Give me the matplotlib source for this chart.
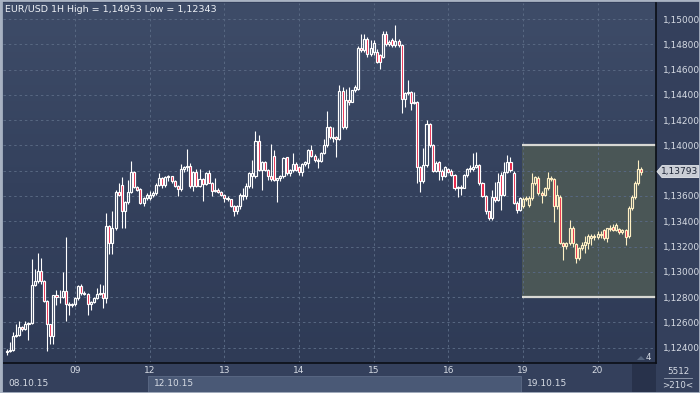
import numpy as np
import matplotlib
matplotlib.use("Agg")
import matplotlib.pyplot as plt
from matplotlib.patches import Rectangle, Polygon
from matplotlib.colors import LinearSegmentedColormap
from matplotlib.transforms import blended_transform_factory

# EUR/USD hourly candles, one list per trading day
O08 = [1.12365, 1.12372, 1.12385, 1.12495, 1.12500, 1.12565, 1.12545, 1.12584, 1.12595, 1.12899, 1.12925,
       1.13005, 1.12925, 1.12771, 1.12584, 1.12490, 1.12813, 1.12800, 1.12805, 1.12845, 1.12744, 1.12735]
H08 = [1.12392, 1.12445, 1.12525, 1.12587, 1.12610, 1.12575, 1.12610, 1.12600, 1.13099, 1.13019, 1.13147,
       1.13112, 1.12935, 1.12779, 1.12590, 1.12819, 1.12859, 1.12859, 1.12997, 1.13277, 1.12760, 1.12750]
L08 = [1.12343, 1.12365, 1.12370, 1.12485, 1.12490, 1.12530, 1.12540, 1.12458, 1.12590, 1.12890, 1.12910,
       1.12900, 1.12760, 1.12370, 1.12426, 1.12426, 1.12739, 1.12752, 1.12790, 1.12610, 1.12659, 1.12720]
C08 = [1.12372, 1.12385, 1.12495, 1.12500, 1.12565, 1.12545, 1.12584, 1.12595, 1.12899, 1.12925, 1.13005,
       1.12925, 1.12771, 1.12584, 1.12490, 1.12813, 1.12800, 1.12805, 1.12845, 1.12744, 1.12735, 1.12744]

O09 = [1.12744, 1.12790, 1.12885, 1.12832, 1.12824, 1.12744, 1.12760, 1.12792, 1.12824, 1.12832, 1.12792, 1.13365,
       1.13232, 1.13347, 1.13632, 1.13685, 1.13485, 1.13552, 1.13632, 1.13792, 1.13672, 1.13659, 1.13547, 1.13584]
H09 = [1.12800, 1.12899, 1.12900, 1.12845, 1.12830, 1.12771, 1.12800, 1.12872, 1.12907, 1.12893, 1.13467, 1.13370,
       1.13485, 1.13645, 1.13699, 1.13752, 1.13560, 1.13725, 1.13880, 1.13800, 1.13680, 1.13665, 1.13590, 1.13620]
L09 = [1.12733, 1.12780, 1.12820, 1.12815, 1.12659, 1.12699, 1.12750, 1.12785, 1.12815, 1.12712, 1.12750, 1.13139,
       1.13144, 1.13330, 1.13600, 1.13347, 1.13347, 1.13540, 1.13620, 1.13660, 1.13640, 1.13540, 1.13520, 1.13570]
C09 = [1.12790, 1.12885, 1.12832, 1.12824, 1.12744, 1.12760, 1.12792, 1.12824, 1.12832, 1.12792, 1.13365, 1.13232,
       1.13347, 1.13632, 1.13605, 1.13485, 1.13552, 1.13632, 1.13792, 1.13672, 1.13651, 1.13547, 1.13584, 1.13611]

O12 = [1.13584, 1.13611, 1.13620, 1.13685, 1.13739, 1.13685, 1.13747, 1.13755, 1.13716, 1.13681, 1.13655, 1.13813,
       1.13829, 1.13840, 1.13681, 1.13790, 1.13681, 1.13734, 1.13697, 1.13782, 1.13705, 1.13637, 1.13645, 1.13629]
H12 = [1.13640, 1.13640, 1.13700, 1.13779, 1.13750, 1.13760, 1.13770, 1.13760, 1.13725, 1.13690, 1.13850, 1.13840,
       1.13972, 1.13860, 1.13800, 1.13810, 1.13815, 1.13740, 1.13790, 1.13808, 1.13710, 1.13740, 1.13660, 1.13640]
L12 = [1.13570, 1.13590, 1.13605, 1.13680, 1.13660, 1.13670, 1.13720, 1.13700, 1.13670, 1.13597, 1.13640, 1.13790,
       1.13800, 1.13660, 1.13637, 1.13670, 1.13670, 1.13560, 1.13690, 1.13700, 1.13597, 1.13630, 1.13620, 1.13600]
C12 = [1.13611, 1.13620, 1.13685, 1.13739, 1.13685, 1.13747, 1.13755, 1.13716, 1.13681, 1.13655, 1.13813, 1.13829,
       1.13840, 1.13681, 1.13790, 1.13681, 1.13734, 1.13697, 1.13782, 1.13705, 1.13637, 1.13645, 1.13629, 1.13610]

O13 = [1.13610, 1.13584, 1.13575, 1.13518, 1.13479, 1.13518, 1.13610, 1.13600, 1.13676, 1.13760, 1.13760, 1.14037,
       1.13808, 1.13866, 1.13808, 1.13760, 1.13918, 1.13730, 1.13740, 1.13755, 1.13905, 1.13782, 1.13808, 1.13855]
H13 = [1.13615, 1.13600, 1.13580, 1.13525, 1.13530, 1.13620, 1.13660, 1.13700, 1.13790, 1.13887, 1.14111, 1.14085,
       1.13880, 1.13880, 1.13815, 1.14013, 1.13966, 1.13740, 1.13770, 1.13910, 1.13910, 1.13810, 1.13940, 1.13870]
L13 = [1.13550, 1.13560, 1.13510, 1.13439, 1.13460, 1.13500, 1.13570, 1.13580, 1.13660, 1.13660, 1.13740, 1.13800,
       1.13650, 1.13800, 1.13730, 1.13720, 1.13720, 1.13550, 1.13720, 1.13740, 1.13770, 1.13760, 1.13790, 1.13800]
C13 = [1.13584, 1.13575, 1.13518, 1.13479, 1.13518, 1.13610, 1.13600, 1.13676, 1.13782, 1.13782, 1.14037, 1.13808,
       1.13866, 1.13808, 1.13760, 1.13735, 1.13730, 1.13740, 1.13755, 1.13900, 1.13782, 1.13808, 1.13855, 1.13808]

O14 = [1.13829, 1.13787, 1.13850, 1.13860, 1.13966, 1.13918, 1.13887, 1.13880, 1.13940, 1.14005, 1.14143, 1.14064,
       1.14069, 1.14048, 1.14429, 1.14143, 1.14358, 1.14345, 1.14437, 1.14450, 1.14774, 1.14758, 1.14845, 1.14726]
H14 = [1.13840, 1.13860, 1.13880, 1.13970, 1.14005, 1.13930, 1.13900, 1.13950, 1.14050, 1.14274, 1.14150, 1.14143,
       1.14075, 1.14477, 1.14464, 1.14450, 1.14464, 1.14440, 1.14480, 1.14790, 1.14884, 1.14884, 1.14860, 1.14832]
L14 = [1.13770, 1.13760, 1.13840, 1.13820, 1.13910, 1.13870, 1.13820, 1.13870, 1.13930, 1.13990, 1.14050, 1.14030,
       1.13912, 1.14040, 1.14130, 1.14130, 1.14319, 1.14340, 1.14420, 1.14440, 1.14740, 1.14740, 1.14700, 1.14710]
C14 = [1.13787, 1.13850, 1.13870, 1.13960, 1.13918, 1.13887, 1.13880, 1.13940, 1.14005, 1.14143, 1.14064, 1.14056,
       1.14048, 1.14429, 1.14143, 1.14358, 1.14345, 1.14437, 1.14464, 1.14774, 1.14758, 1.14845, 1.14726, 1.14774]

O15 = [1.14740, 1.14740, 1.14713, 1.14700, 1.14884, 1.14800, 1.14832, 1.14792, 1.14826, 1.14792, 1.14364, 1.14416,
       1.14424, 1.14337, 1.14345, 1.13833, 1.13715, 1.13846, 1.14169, 1.14004, 1.13801, 1.13872, 1.13801, 1.13759]
H15 = [1.14830, 1.14760, 1.14720, 1.14902, 1.14902, 1.14830, 1.14850, 1.14953, 1.14840, 1.14800, 1.14420, 1.14516,
       1.14430, 1.14424, 1.14350, 1.13840, 1.13977, 1.14201, 1.14180, 1.14010, 1.13880, 1.13880, 1.13815, 1.13840]
L15 = [1.14715, 1.14650, 1.14608, 1.14690, 1.14790, 1.14790, 1.14780, 1.14780, 1.14780, 1.14253, 1.14301, 1.14400,
       1.14280, 1.14330, 1.13701, 1.13628, 1.13700, 1.13830, 1.13990, 1.13790, 1.13790, 1.13728, 1.13728, 1.13750]
C15 = [1.14811, 1.14661, 1.14661, 1.14884, 1.14800, 1.14818, 1.14792, 1.14826, 1.14792, 1.14364, 1.14416, 1.14424,
       1.14337, 1.14345, 1.13833, 1.13715, 1.13846, 1.14169, 1.14004, 1.13801, 1.13864, 1.13801, 1.13759, 1.13833]

O16 = [1.13812, 1.13801, 1.13767, 1.13662, 1.13675, 1.13665, 1.13767, 1.13812, 1.13812, 1.13833, 1.13843, 1.13701,
       1.13602, 1.13478, 1.13424, 1.13595, 1.13570, 1.13766, 1.13608, 1.13792, 1.13871, 1.13784, 1.13548, 1.13490]
H16 = [1.13820, 1.13810, 1.13775, 1.13680, 1.13690, 1.13775, 1.13820, 1.13843, 1.13940, 1.13951, 1.13850, 1.13710,
       1.13610, 1.13485, 1.13647, 1.13713, 1.13779, 1.13790, 1.13871, 1.13924, 1.13910, 1.13800, 1.13560, 1.13590]
L16 = [1.13780, 1.13760, 1.13650, 1.13591, 1.13610, 1.13660, 1.13750, 1.13790, 1.13800, 1.13820, 1.13690, 1.13590,
       1.13460, 1.13411, 1.13410, 1.13550, 1.13560, 1.13490, 1.13600, 1.13780, 1.13790, 1.13540, 1.13463, 1.13480]
C16 = [1.13786, 1.13767, 1.13662, 1.13675, 1.13665, 1.13767, 1.13812, 1.13820, 1.13833, 1.13843, 1.13701, 1.13602,
       1.13478, 1.13424, 1.13595, 1.13570, 1.13713, 1.13608, 1.13792, 1.13871, 1.13805, 1.13548, 1.13490, 1.13582]

O19 = [1.13520, 1.13580, 1.13530, 1.13582, 1.13700, 1.13740, 1.13621, 1.13608, 1.13661, 1.13740, 1.13732, 1.13521,
       1.13595, 1.13232, 1.13205, 1.13227, 1.13345, 1.13222, 1.13108, 1.13187, 1.13214, 1.13227, 1.13266, 1.13284]
H19 = [1.13590, 1.13600, 1.13600, 1.13779, 1.13760, 1.13760, 1.13640, 1.13670, 1.13792, 1.13760, 1.13740, 1.13687,
       1.13610, 1.13240, 1.13240, 1.13411, 1.13360, 1.13230, 1.13200, 1.13240, 1.13280, 1.13300, 1.13300, 1.13300]
L19 = [1.13505, 1.13560, 1.13516, 1.13570, 1.13690, 1.13610, 1.13542, 1.13600, 1.13650, 1.13720, 1.13398, 1.13500,
       1.13220, 1.13095, 1.13180, 1.13210, 1.13200, 1.13069, 1.13095, 1.13170, 1.13150, 1.13180, 1.13214, 1.13250]
C19 = [1.13580, 1.13585, 1.13582, 1.13700, 1.13753, 1.13621, 1.13608, 1.13661, 1.13740, 1.13732, 1.13521, 1.13608,
       1.13232, 1.13205, 1.13232, 1.13345, 1.13232, 1.13108, 1.13187, 1.13214, 1.13240, 1.13284, 1.13284, 1.13274]

O20 = [1.13274, 1.13300, 1.13332, 1.13266, 1.13345, 1.13358, 1.13332, 1.13337, 1.13319, 1.13332, 1.13284, 1.13503,
       1.13595, 1.13700, 1.13811]
H20 = [1.13320, 1.13320, 1.13340, 1.13350, 1.13370, 1.13380, 1.13390, 1.13345, 1.13340, 1.13340, 1.13520, 1.13610,
       1.13720, 1.13884, 1.13830]
L20 = [1.13260, 1.13270, 1.13250, 1.13240, 1.13320, 1.13320, 1.13320, 1.13300, 1.13300, 1.13214, 1.13270, 1.13490,
       1.13580, 1.13690, 1.13770]
C20 = [1.13300, 1.13290, 1.13266, 1.13345, 1.13337, 1.13332, 1.13371, 1.13319, 1.13332, 1.13279, 1.13503, 1.13595,
       1.13700, 1.13811, 1.13793]

day_labels = ["09", "12", "13", "14", "15", "16", "19", "20"]
date_labels = ["08.10.15", "12.10.15", "19.10.15"]
price_ticks = [1.124, 1.126, 1.128, 1.130, 1.132, 1.134, 1.136, 1.138, 1.140,
               1.142, 1.144, 1.146, 1.148, 1.150]
box_low, box_high = 1.128, 1.140
last_price = 1.13793
title = "EUR/USD 1H High = 1,14953 Low = 1,12343"

opens = O08 + O09 + O12 + O13 + O14 + O15 + O16 + O19 + O20
highs = H08 + H09 + H12 + H13 + H14 + H15 + H16 + H19 + H20
lows = L08 + L09 + L12 + L13 + L14 + L15 + L16 + L19 + L20
closes = C08 + C09 + C12 + C13 + C14 + C15 + C16 + C19 + C20
day_sizes = [len(C08), len(C09), len(C12), len(C13), len(C14), len(C15), len(C16), len(C19), len(C20)]

o, h, l, c = map(np.array, (opens, highs, lows, closes))
n = len(c)
x = np.arange(n)
day_start = np.cumsum(day_sizes)[:-1]  # first candle of each day after the first
week2, week3 = day_start[1], day_start[6]
box_start = week3 - 0.4

W, H = 700, 393
fig = plt.figure(figsize=(W / 100, H / 100), dpi=100)
fig.patch.set_facecolor("#34405c")


def fx(px):
    return px / W


def fy(py):
    return 1 - py / H


ax = fig.add_axes([fx(3), fy(363), fx(656) - fx(3), fy(3) - fy(363)])
xmin, xmax = -1.2, 208.8
ymin, ymax = 1.12279, 1.151266
ax.set_xlim(xmin, xmax)
ax.set_ylim(ymin, ymax)

bg = LinearSegmentedColormap.from_list("bg", ["#2f3b56", "#34415d", "#3e4c68"])
ax.imshow(np.linspace(0, 1, 256).reshape(-1, 1), extent=[xmin, xmax, ymin, ymax],
          aspect="auto", origin="lower", cmap=bg, zorder=0)

# highlighted range box
ax.add_patch(Rectangle((box_start, box_low), xmax - box_start, box_high - box_low,
                       facecolor="#4a5656", edgecolor="none", zorder=1))
ax.hlines([box_low, box_high], box_start, xmax, colors="#d8d8d4", linewidth=1.6, zorder=2)

# grid
ax.hlines(price_ticks, xmin, xmax, colors="#586882", linewidth=0.7,
          linestyles=(0, (2.5, 3)), zorder=1.5)
ax.vlines(day_start, ymin, ymax, colors="#586882", linewidth=0.7,
          linestyles=(0, (2.5, 3)), zorder=1.5)

# candles
inside = x >= box_start
edge = np.where(inside, "#fff0c4", "#ffffff")
bull = c >= o
face = np.where(bull, "none", "#e8173c")
top = np.maximum(o, c)
bot = np.minimum(o, c)
ax.vlines(x, top, h, colors=edge, linewidth=0.8, zorder=3)
ax.vlines(x, l, bot, colors=edge, linewidth=0.8, zorder=3)
ax.bar(x, np.maximum(top - bot, 0.00003), bottom=bot, width=0.66, color=face,
       edgecolor=edge, linewidth=0.85, zorder=4)

# axes styling
for side in ("top", "left"):
    ax.spines[side].set_visible(False)
for side in ("right", "bottom"):
    ax.spines[side].set_color("#0a0e16")
    ax.spines[side].set_linewidth(1.2)

ax.yaxis.tick_right()
shown = [p for p in price_ticks if abs(p - last_price) > 0.0012]
ax.set_yticks(shown, [f"{p:.5f}".replace(".", ",") for p in shown])
ax.tick_params(axis="y", length=0, pad=5, labelsize=6.5, labelcolor="#d6dbe4")
ax.set_xticks(day_start, day_labels)
ax.tick_params(axis="x", length=0, pad=2.5, labelsize=6.5, labelcolor="#d6dbe4")

# date row under the day labels
trans = blended_transform_factory(ax.transData, fig.transFigure)
ax.add_artist(Rectangle((week2 - 0.5, fy(392)), week3 - week2, fy(376) - fy(392),
                        transform=trans, facecolor="#4a5976", edgecolor="#5c6a86",
                        linewidth=0.6, clip_on=False))
fig.text(fx(8), fy(384), date_labels[0], color="#d6dbe4", fontsize=6.5, va="center")
ax.text(week2 + 1.2, fy(384), date_labels[1], transform=trans, color="#d6dbe4",
        fontsize=6.5, va="center", clip_on=False)
ax.text(week3 + 1.2, fy(384), date_labels[2], transform=trans, color="#d6dbe4",
        fontsize=6.5, va="center", clip_on=False)
fig.add_artist(Rectangle((fx(632), fy(392)), fx(656) - fx(632), fy(364) - fy(392),
                         transform=fig.transFigure, facecolor="#28324b", edgecolor="none"))

# bottom-right info cell
fig.text(fx(678), fy(372), "5512", color="#d6dbe4", fontsize=6.3, ha="center", va="center")
fig.add_artist(plt.Line2D([fx(664), fx(692)], [fy(378), fy(378)], color="#9aa4b6", linewidth=0.6))
fig.text(fx(678), fy(385), ">210<", color="#d6dbe4", fontsize=6.3, ha="center", va="center")

# corner marker inside the plot
fig.add_artist(Polygon([(fx(637), fy(360)), (fx(641), fy(356)), (fx(645), fy(360))], closed=True,
                       transform=fig.transFigure, facecolor="#56657e", edgecolor="none"))
fig.text(fx(648), fy(357), "4", color="#d6dbe4", fontsize=6.3, ha="center", va="center")

# last price marker
py = (ymax - last_price) / (ymax - ymin) * 360 + 3
fig.add_artist(Polygon([(fx(657), fy(py)), (fx(662), fy(py - 6)), (fx(699), fy(py - 6)),
                        (fx(699), fy(py + 6)), (fx(662), fy(py + 6))], closed=True,
                       transform=fig.transFigure, facecolor="#c9cdd5", edgecolor="#e4e7ec",
                       linewidth=0.6))
fig.text(fx(680), fy(py), f"{last_price:.5f}".replace(".", ","), color="#1c2436",
         fontsize=6.5, ha="center", va="center")

fig.text(fx(5), fy(9), title, color="#eef1f6", fontsize=6.8, va="center")

# outer frame
fig.add_artist(Rectangle((0, 0), fx(3), 1, transform=fig.transFigure,
                         facecolor="#9aa6b8", edgecolor="none"))
fig.add_artist(Rectangle((0, 0), 1, 1, transform=fig.transFigure, fill=False,
                         edgecolor="#a9b3c3", linewidth=2))

fig.savefig("out.png", dpi=100, facecolor=fig.get_facecolor())
